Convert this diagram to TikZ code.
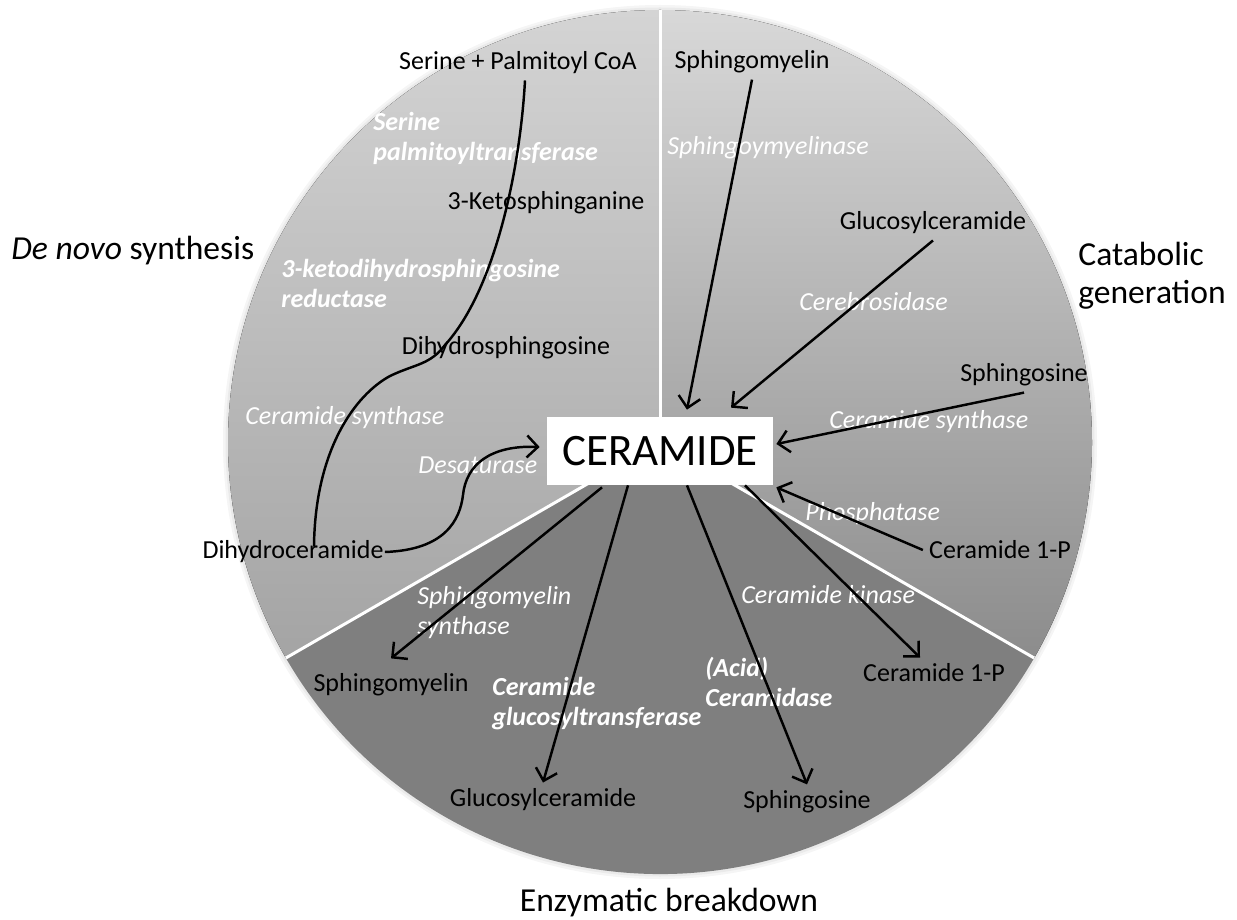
\documentclass[tikz,border=0pt]{standalone}
\usepackage{fontspec}
\setmainfont{Carlito}
\usetikzlibrary{arrows.meta}
\definecolor{lwtop}{HTML}{D4D4D4}
\definecolor{lwbot}{HTML}{A4A4A4}
\definecolor{rwtop}{HTML}{D8D8D8}
\definecolor{rwbot}{HTML}{8C8C8C}
\definecolor{bwfill}{HTML}{7F7F7F}
\definecolor{halo}{HTML}{EAEAEA}
\definecolor{halofar}{HTML}{F5F5F5}
\tikzset{
  wedge/.style={draw=white, line width=1.7pt},
  hub/.style={fill=white, minimum width=4.52cm, minimum height=1.36cm, inner sep=0pt, font=\fontsize{25.6}{30}\selectfont},
  mol/.style={font=\fontsize{14.8}{17.1}\selectfont, text=black, inner sep=0.12cm},
  enz/.style={font=\fontsize{14.8}{17.1}\selectfont\itshape, text=white, inner sep=0pt, anchor=west, align=left},
  enzb/.style={enz, font=\fontsize{14.8}{17.1}\selectfont\bfseries\itshape},
  ttl/.style={font=\fontsize{19.1}{21.6}\selectfont, text=black, inner sep=0pt},
  rxn/.style={-{Straight Barb[length=2.2mm,width=4.4mm,line width=1.4pt]}, draw=black, line width=1.4pt},
  route/.style={draw=black, line width=1.4pt},
}

\begin{document}
\begin{tikzpicture}[x=1cm,y=1cm]
  \useasboundingbox (0,0) rectangle (24.740,-18.400);
  \coordinate (ctr) at (13.200,-8.840);
  \fill[halofar] (ctr) circle (8.740);
  \fill[halo] (ctr) circle (8.690);
  \fill[top color=lwtop, bottom color=lwbot] (ctr) -- ++(90:8.640) arc[start angle=90, end angle=210, radius=8.640] -- cycle;
  \fill[top color=rwtop, bottom color=rwbot] (ctr) -- ++(90:8.640) arc[start angle=90, end angle=-30, radius=8.640] -- cycle;
  \fill[bwfill] (ctr) -- ++(210:8.640) arc[start angle=210, end angle=330, radius=8.640] -- cycle;
  \draw[wedge] (ctr) -- ++(90:8.640);
  \draw[wedge] (ctr) -- ++(210:8.640);
  \draw[wedge] (ctr) -- ++(330:8.640);
  \node[hub] (cer) at (13.200,-9.020) {CERAMIDE};
  \node[ttl, anchor=west] (dn) at (0.220,-5.020) {\textit{De novo} synthesis};
  \node[ttl, anchor=west, align=left] (cg) at (21.560,-5.520) {Catabolic\\generation};
  \node[ttl] (eb) at (13.380,-18.060) {Enzymatic breakdown};
  \node[mol] (ser) at (10.360,-1.260) {Serine + Palmitoyl CoA};
  \node[mol] (ket) at (10.920,-4.060) {3-Ketosphinganine};
  \node[mol] (dhs) at (10.120,-6.960) {Dihydrosphingosine};
  \node[mol] (dhc) at (5.860,-11.040) {Dihydroceramide};
  \node[mol] (smT) at (15.040,-1.240) {Sphingomyelin};
  \node[mol] (gcT) at (18.660,-4.460) {Glucosylceramide};
  \node[mol] (sphR) at (20.480,-7.500) {Sphingosine};
  \node[mol] (cpR) at (20.000,-11.000) {Ceramide 1-P};
  \node[mol] (smB) at (7.820,-13.700) {Sphingomyelin};
  \node[mol] (gcB) at (10.860,-16.000) {Glucosylceramide};
  \node[mol] (sphB) at (16.140,-16.040) {Sphingosine};
  \node[mol] (cpB) at (18.680,-13.460) {Ceramide 1-P};
  \node[enzb] (spt) at (7.460,-2.760) {Serine\\palmitoyltransferase};
  \node[enzb] (kdsr) at (5.620,-5.660) {3-ketodihydrosphingosine\\reductase};
  \node[enz] (csL) at (4.900,-8.360) {Ceramide synthase};
  \node[enz] (des) at (8.360,-9.300) {Desaturase};
  \node[enz] (smase) at (13.340,-2.960) {Sphingoymyelinase};
  \node[enz] (gba) at (15.980,-6.040) {Cerebrosidase};
  \node[enz] (csR) at (16.580,-8.440) {Ceramide synthase};
  \node[enz] (pase) at (16.100,-10.280) {Phosphatase};
  \node[enz] (cerk) at (14.820,-11.900) {Ceramide kinase};
  \node[enz] (sms) at (8.340,-12.260) {Sphingomyelin\\synthase};
  \node[enzb] (ugcg) at (9.840,-14.080) {Ceramide\\glucosyltransferase};
  \node[enzb] (asah) at (14.100,-13.640) {(Acid)\\Ceramidase};
  \draw[route] ([xshift=0.140cm]ser.south) .. controls (10.400,-3.400) and (9.900,-5.800) .. (8.900,-6.900)
    .. controls (8.600,-7.300) and (8.300,-7.280) .. (7.800,-7.520)
    .. controls (7.100,-7.900) and (6.300,-9.000) .. ([xshift=0.420cm,yshift=-0.240cm]dhc.north);
  \draw[rxn] ([xshift=-0.100cm]dhc.east) .. controls (8.900,-11.000) and (9.200,-10.400) .. (9.260,-9.900)
    .. controls (9.320,-9.300) and (9.800,-8.900) .. ([xshift=-0.140cm,yshift=0.080cm]cer.west);
  \draw[rxn] (smT.south) -- ([xshift=0.540cm,yshift=0.140cm]cer.north);
  \draw[rxn] (gcT.south) -- ([xshift=1.420cm,yshift=0.180cm]cer.north);
  \draw[rxn] (sphR.south) -- ([xshift=0.060cm,yshift=0.140cm]cer.east);
  \draw[rxn] (cpR.west) -- ([xshift=0.060cm,yshift=-0.040cm]cer.south east);
  \draw[rxn] ([xshift=-1.160cm,yshift=-0.040cm]cer.south) -- ([yshift=0.180cm]smB.north);
  \draw[rxn] ([xshift=-0.640cm]cer.south) -- (gcB.north);
  \draw[rxn] ([xshift=0.540cm]cer.south) -- (sphB.north);
  \draw[rxn] ([xshift=1.700cm]cer.south) -- ([xshift=-0.280cm]cpB.north);
\end{tikzpicture}
\end{document}
